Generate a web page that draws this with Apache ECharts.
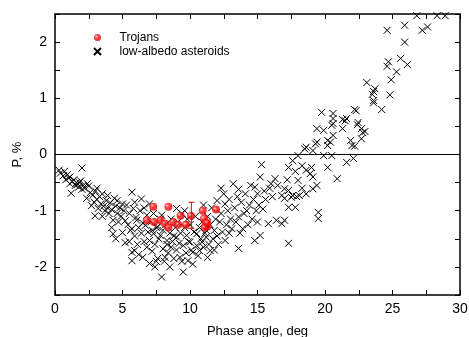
<!DOCTYPE html>
<html>
<head>
<meta charset="utf-8">
<script src="https://cdn.jsdelivr.net/npm/echarts@6/dist/echarts.min.js"></script>
<style>html,body{margin:0;padding:0;background:#fff}#c{width:469px;height:337px}</style>
</head>
<body>
<div id="c"></div>
<script>
// ---- data (phase angle deg, polarization %) ----
const xTicks = [0, 5, 10, 15, 20, 25, 30];
const yTicks = [-2, -1, 0, 1, 2];

const asteroidsA = [[0.3,-0.28],[0.4,-0.33],[0.6,-0.38],[0.7,-0.3],[0.8,-0.45],[0.9,-0.36],[1.0,-0.42],[1.1,-0.4],[1.1,-0.52],[1.2,-0.69],[1.3,-0.48],[1.4,-0.45],[1.5,-0.55],[1.6,-0.5],[1.7,-0.53],[1.75,-0.58],[1.8,-0.5],[1.9,-0.47],[2.0,-0.24],[2.0,-0.62],[2.1,-0.55],[2.2,-0.6],[2.35,-0.78],[2.4,-0.52],[2.5,-0.56],[2.6,-0.68],[2.7,-0.91],[2.8,-0.72]];
const asteroidsB = [[2.9,-0.85],[2.96,-1.09],[3.0,-0.65],[3.1,-0.6],[3.1,-0.8],[3.2,-0.96],[3.3,-0.75],[3.4,-0.88],[3.5,-0.7],[3.6,-0.92],[3.7,-1.0],[3.8,-0.82],[3.9,-0.73],[3.9,-0.95],[4.0,-1.05],[4.1,-0.86],[4.2,-0.98],[4.3,-1.17],[4.3,-1.41],[4.4,-0.78],[4.5,-0.92],[4.6,-0.82],[4.6,-1.05],[4.7,-1.2],[4.8,-0.95],[4.9,-1.1],[5.0,-1.39],[5.0,-0.88],[4.2,-1.3],[4.5,-1.5],[3.5,-1.1]];
const asteroidsC = [[5.1,-1.0],[5.2,-1.57],[5.2,-1.18],[5.3,-0.9],[5.4,-1.25],[5.5,-1.05],[5.6,-1.35],[5.7,-0.67],[5.7,-1.32],[5.7,-1.74],[5.7,-1.89],[5.8,-0.96],[5.9,-0.85],[5.9,-1.71],[5.9,-1.45],[6.0,-1.12],[6.05,-1.17],[6.1,-1.6],[6.2,-1.3],[6.3,-1.0],[6.4,-0.79],[6.4,-1.4],[6.5,-1.83],[6.5,-1.22],[6.6,-1.55],[6.7,-1.26],[6.8,-1.08],[6.8,-1.65],[6.9,-1.38],[7.0,-0.88],[7.0,-1.53],[7.0,-1.94],[6.2,-1.78],[5.5,-1.55],[6.6,-0.95]];
const asteroidsD = [[7.1,-1.2],[7.2,-1.72],[7.3,-1.41],[7.3,-1.05],[7.4,-2.0],[7.4,-1.6],[7.5,-1.3],[7.6,-1.29],[7.6,-1.85],[7.7,-1.5],[7.8,-1.44],[7.8,-1.15],[7.9,-1.08],[7.9,-2.18],[8.0,-1.68],[8.0,-1.35],[8.1,-1.9],[8.15,-1.83],[8.2,-1.25],[8.3,-1.53],[8.4,-1.75],[8.5,-2.0],[8.5,-1.4],[8.6,-1.65],[8.6,-1.15],[8.7,-1.55],[8.8,-1.85],[8.9,-1.3],[9.0,-0.96],[9.0,-1.47],[9.0,-1.7],[7.5,-1.9],[8.3,-1.6],[8.8,-1.45],[7.2,-1.35]];
const asteroidsE = [[9.1,-1.2],[9.2,-1.58],[9.26,-1.83],[9.3,-1.4],[9.4,-1.05],[9.5,-1.62],[9.5,-2.09],[9.6,-1.3],[9.7,-1.75],[9.75,-1.44],[9.8,-1.15],[9.85,-1.89],[9.9,-1.55],[10.0,-1.56],[10.0,-1.25],[10.1,-1.7],[10.2,-1.74],[10.3,-1.38],[10.4,-1.1],[10.5,-1.41],[10.5,-1.62],[10.6,-1.8],[10.7,-1.71],[10.7,-1.3],[10.8,-1.5],[10.9,-1.56],[10.9,-1.2],[11.0,-0.9],[11.0,-1.65],[9.4,-1.9],[10.2,-1.95],[9.6,-1.0]];
const asteroidsF = [[11.1,-1.4],[11.2,-1.35],[11.2,-1.47],[11.3,-1.83],[11.3,-1.1],[11.4,-1.6],[11.5,-1.71],[11.5,-1.25],[11.6,-0.95],[11.7,-1.5],[11.8,-1.35],[11.9,-1.15],[12.0,-0.82],[12.0,-1.45],[12.1,-1.6],[12.2,-1.2],[12.3,-1.05],[12.4,-1.38],[12.5,-0.7],[12.6,-0.88],[12.6,-1.53],[12.7,-1.25],[12.8,-1.0],[12.9,-1.4],[13.0,-1.15],[13.1,-1.32],[13.2,-0.52],[12.3,-0.6],[11.8,-1.7],[12.9,-0.8]];
const asteroidsG = [[13.3,-0.95],[13.4,-1.2],[13.5,-0.75],[13.6,-0.62],[13.6,-1.11],[13.6,-1.67],[13.7,-1.4],[13.8,-0.85],[13.9,-1.32],[14.0,-1.05],[14.1,-0.7],[14.2,-1.0],[14.3,-1.25],[14.4,-0.9],[14.5,-0.55],[14.6,-1.15],[14.7,-0.8],[14.8,-0.58],[14.8,-1.53],[14.9,-1.0],[15.0,-0.7],[15.1,-0.9],[15.2,-0.4],[15.2,-1.44],[15.3,-0.18],[15.4,-0.97],[15.5,-0.65],[15.6,-0.8],[15.8,-1.23],[15.9,-0.6],[16.0,-0.52],[16.1,-0.75],[16.3,-0.43],[16.4,-1.17],[16.5,-0.55],[15.0,-1.2]];
const asteroidsH = [[16.8,-0.73],[16.8,-1.23],[17.0,-0.61],[17.0,-0.78],[17.0,-1.17],[17.2,-0.45],[17.3,-0.23],[17.3,-0.64],[17.3,-0.94],[17.3,-1.58],[17.5,-0.76],[17.6,-0.11],[17.6,-0.73],[17.8,-0.94],[17.8,-0.3],[18.0,-0.02],[18.0,-0.46],[18.1,-0.73],[18.3,-0.2],[18.5,0.1],[18.6,0.13],[18.6,-0.28],[18.6,-0.7],[18.9,-0.34],[19.0,-0.23],[19.1,0.07],[19.1,-0.4],[19.1,-0.61],[19.3,0.19],[19.4,0.22],[19.4,0.46],[19.4,-0.55],[19.5,-1.03],[19.5,-1.14],[17.9,-0.75],[18.3,-0.6]];
const asteroidsI = [[19.75,0.75],[19.9,0.43],[19.9,-0.02],[20.2,0.25],[20.2,0.16],[20.2,-0.23],[20.4,0.22],[20.5,0.52],[20.5,-0.02],[20.6,0.73],[20.6,0.64],[20.6,0.55],[20.6,0.34],[20.9,-0.43],[21.3,0.46],[21.3,0.62],[21.5,0.6],[21.6,0.64],[21.6,-0.14],[21.9,0.25],[22.0,0.16],[22.1,-0.07],[22.2,0.15],[22.2,0.8],[22.3,0.78],[22.4,0.53],[22.45,0.57],[22.7,0.46],[22.7,0.28],[22.8,0.39],[22.96,0.41]];
const asteroidsJ = [[23.1,1.28],[23.5,1.07],[23.6,1.12],[23.6,0.96],[23.6,0.92],[23.7,1.17],[24.2,0.8],[24.6,2.21],[24.6,1.57],[24.7,1.65],[24.8,1.06],[24.9,1.33],[25.3,1.47],[25.6,1.71],[25.9,2.3],[25.9,2.0],[26.1,1.6],[26.8,2.47],[27.2,2.21],[27.6,2.27],[28.3,2.47],[28.9,2.47]];

const trojans = [[7.28,-0.93],[8.4,-0.93],[6.8,-1.17],[7.33,-1.2],[7.83,-1.17],[8.15,-1.23],[8.4,-1.3],[8.77,-1.2],[9.13,-1.25],[9.3,-1.09],[9.7,-1.25],[10.07,-1.09],[10.94,-1.0],[11.93,-0.98],[11.04,-1.14],[11.19,-1.22],[11.28,-1.28],[11.1,-1.3],[11.3,-1.22]];
// error bar: [x, low, high]
const trojanErr = [[10.1,-1.32,-0.85]];

const asteroids = [].concat(asteroidsA, asteroidsB, asteroidsC, asteroidsD, asteroidsE, asteroidsF, asteroidsG, asteroidsH, asteroidsI, asteroidsJ);

const FONT = 'Liberation Sans, Arial, sans-serif';
const chart = echarts.init(document.getElementById('c'), null, {renderer: 'canvas'});
const crossPath = 'path://M0,0L10,10M10,0L0,10';

const axisCommon = {
  axisLine: {show: true, onZero: false, lineStyle: {color: '#000', width: 1.5}},
  axisTick: {show: true, inside: true, length: 5, lineStyle: {color: '#000', width: 1}},
  splitLine: {show: false}
};

chart.setOption({
  animation: false,
  backgroundColor: '#fff',
  grid: {left: 55, right: 9, top: 14, bottom: 42, containLabel: false, outerBoundsMode: 'none'},
  legend: {
    orient: 'vertical', left: 88, top: 26, itemWidth: 34, itemHeight: 7, itemGap: 1,
    textStyle: {fontFamily: FONT, fontSize: 12, lineHeight: 13, color: '#000'},
    data: ['Trojans', 'low-albedo asteroids']
  },
  xAxis: [
    Object.assign({}, axisCommon, {
      type: 'value', min: 0, max: 30, interval: 2.5, position: 'bottom',
      name: 'Phase angle, deg', nameLocation: 'middle', nameGap: 30, nameMoveOverlap: false,
      nameTextStyle: {fontFamily: FONT, fontSize: 13, color: '#000'},
      axisLabel: {margin: 7, fontFamily: FONT, fontSize: 14, color: '#000',
        formatter: v => (xTicks.indexOf(v) >= 0 ? String(v) : '')}
    }),
    Object.assign({}, axisCommon, {
      type: 'value', min: 0, max: 30, interval: 2.5, position: 'top',
      axisLabel: {show: false}
    })
  ],
  yAxis: [
    Object.assign({}, axisCommon, {
      type: 'value', min: -2.5, max: 2.5, interval: 0.5, position: 'left',
      name: 'P, %', nameLocation: 'middle', nameGap: 31, nameRotate: 90, nameMoveOverlap: false,
      nameTextStyle: {fontFamily: FONT, fontSize: 13, color: '#000'},
      axisLabel: {margin: 8, fontFamily: FONT, fontSize: 14, color: '#000',
        formatter: v => (yTicks.indexOf(v) >= 0 ? String(v) : '')}
    }),
    Object.assign({}, axisCommon, {
      type: 'value', min: -2.5, max: 2.5, interval: 0.5, position: 'right',
      axisLabel: {show: false}
    })
  ],
  series: [
    {
      name: 'low-albedo asteroids', type: 'scatter', data: asteroids,
      symbol: crossPath, symbolSize: 7,
      itemStyle: {color: 'rgba(0,0,0,0)', borderColor: '#000', borderWidth: 1, opacity: 1},
      markLine: {
        silent: true, symbol: ['none', 'none'], label: {show: false},
        lineStyle: {color: '#000', width: 1, type: 'solid'},
        data: [{yAxis: 0}]
      },
      z: 2
    },
    {
      name: 'err', type: 'custom', data: trojanErr,
      renderItem: function (params, api) {
        const p1 = api.coord([api.value(0), api.value(1)]);
        const p2 = api.coord([api.value(0), api.value(2)]);
        const w = 3;
        return {
          type: 'group',
          children: [
            {type: 'line', shape: {x1: p1[0], y1: p1[1], x2: p2[0], y2: p2[1]}, style: {stroke: '#e00', lineWidth: 1}},
            {type: 'line', shape: {x1: p1[0]-w, y1: p1[1], x2: p1[0]+w, y2: p1[1]}, style: {stroke: '#e00', lineWidth: 1}},
            {type: 'line', shape: {x1: p2[0]-w, y1: p2[1], x2: p2[0]+w, y2: p2[1]}, style: {stroke: '#e00', lineWidth: 1}}
          ]
        };
      },
      z: 3
    },
    {
      name: 'Trojans', type: 'scatter', data: trojans,
      symbol: 'circle', symbolSize: 8,
      itemStyle: {
        color: {type: 'radial', x: 0.35, y: 0.35, r: 0.75,
          colorStops: [{offset: 0, color: '#ffc0c0'}, {offset: 0.35, color: '#ff1010'}, {offset: 1, color: '#d00000'}]}
      },
      z: 4
    }
  ]
});
</script>
</body>
</html>
